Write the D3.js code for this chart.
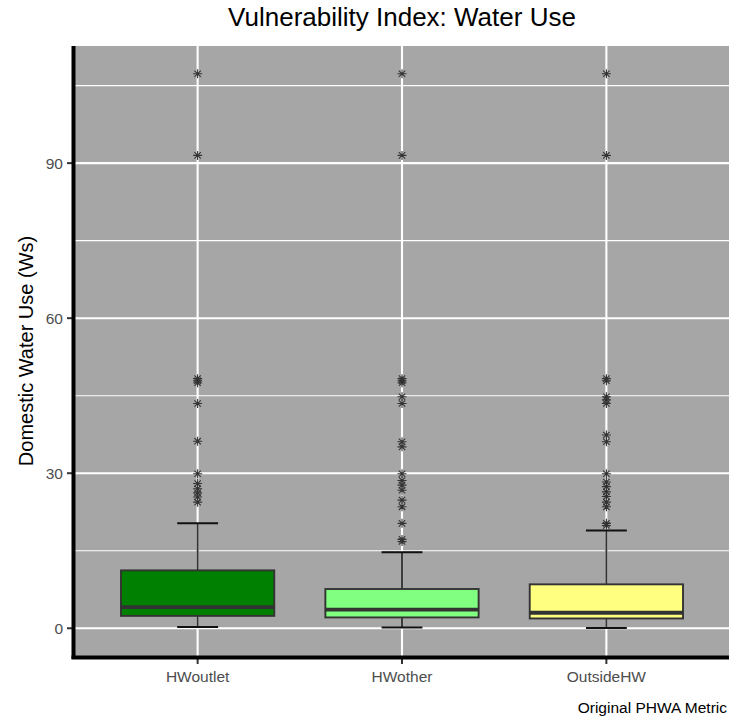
<!DOCTYPE html>
<html>
<head>
<meta charset="utf-8">
<script src="https://cdn.jsdelivr.net/npm/d3@7"></script>
<style>
  body { margin: 0; background: #fff; }
  svg { font-family: "Liberation Sans", Arial, sans-serif; }
</style>
</head>
<body>
<script>
const categories = ['HWoutlet', 'HWother', 'OutsideHW'];
const fills = ['#008000', '#80FF80', '#FFFF80'];
const whiskerLow = [0.26, 0.13, 0.06];
const q1 = [2.4, 2.1, 1.9];
const median = [4.1, 3.6, 3.0];
const q3 = [11.2, 7.6, 8.5];
const whiskerHigh = [20.3, 14.7, 18.9];
const outliersHWoutlet = [107.3, 91.5, 48.3, 47.9, 47.5, 43.5, 36.2, 29.9, 28.0, 27.0, 26.2, 25.4, 24.4];
const outliersHWother = [107.3, 91.5, 48.3, 47.9, 47.5, 44.8, 43.5, 36.1, 35.1, 29.9, 28.6, 27.7, 26.7, 24.8, 23.5, 20.3, 17.2, 16.8];
const outliersOutsideHW = [107.3, 91.5, 48.3, 47.9, 44.8, 44.2, 43.5, 37.4, 36.1, 29.9, 28.3, 27.4, 26.4, 25.5, 24.4, 23.5, 20.3, 19.9];
const yTicks = [0, 30, 60, 90];
const yMinor = [15, 45, 75, 105];

const width = 746, height = 721;
const margin = { top: 46, right: 17, bottom: 65, left: 75 };

const boxes = categories.map((c, i) => ({
	name: c,
	fill: fills[i],
	lo: whiskerLow[i],
	q1: q1[i],
	med: median[i],
	q3: q3[i],
	hi: whiskerHigh[i],
	out: [outliersHWoutlet, outliersHWother, outliersOutsideHW][i],
}));

const svg = d3.select('body').append('svg').attr('width', width).attr('height', height);

// discrete x: 0.6 units of expansion at each side, like ggplot
const x0 = margin.left, x1 = width - margin.right;
const x = d3
	.scaleLinear()
	.domain([0.4, categories.length + 0.6])
	.range([x0, x1]);
const unit = x(2) - x(1);
const cx = (d) => x(categories.indexOf(d) + 1);

const yMax = 107.3;
const y = d3
	.scaleLinear()
	.domain([-0.05 * yMax, yMax * 1.05])
	.range([height - margin.bottom, margin.top]);

// panel
svg.append('rect')
	.attr('x', x0)
	.attr('y', margin.top)
	.attr('width', x1 - x0)
	.attr('height', height - margin.bottom - margin.top)
	.attr('fill', '#A6A6A6');

const grid = svg.append('g');
grid.selectAll('.minor')
	.data(yMinor)
	.join('line')
	.attr('x1', x0).attr('x2', x1)
	.attr('y1', (d) => y(d)).attr('y2', (d) => y(d))
	.attr('stroke', '#fff').attr('stroke-width', 1.1);
grid.selectAll('.major')
	.data(yTicks)
	.join('line')
	.attr('x1', x0).attr('x2', x1)
	.attr('y1', (d) => y(d)).attr('y2', (d) => y(d))
	.attr('stroke', '#fff').attr('stroke-width', 2.1);
grid.selectAll('.vmajor')
	.data(categories)
	.join('line')
	.attr('x1', cx).attr('x2', cx)
	.attr('y1', margin.top).attr('y2', height - margin.bottom)
	.attr('stroke', '#fff').attr('stroke-width', 2.1);

const boxW = 0.75 * unit;
const capW = 0.2 * unit;
const g = svg.append('g');
const bx = g.selectAll('g').data(boxes).join('g');

// whiskers
bx.append('line')
	.attr('x1', (d) => cx(d.name)).attr('x2', (d) => cx(d.name))
	.attr('y1', (d) => y(d.q3)).attr('y2', (d) => y(d.hi))
	.attr('stroke', '#333').attr('stroke-width', 1.9);
bx.append('line')
	.attr('x1', (d) => cx(d.name)).attr('x2', (d) => cx(d.name))
	.attr('y1', (d) => y(d.q1)).attr('y2', (d) => y(d.lo))
	.attr('stroke', '#333').attr('stroke-width', 1.9);
for (const k of ['hi', 'lo']) {
	bx.append('line')
		.attr('x1', (d) => cx(d.name) - capW / 2).attr('x2', (d) => cx(d.name) + capW / 2)
		.attr('y1', (d) => y(d[k])).attr('y2', (d) => y(d[k]))
		.attr('stroke', '#111').attr('stroke-width', 2);
}
// box
bx.append('rect')
	.attr('x', (d) => cx(d.name) - boxW / 2)
	.attr('width', boxW)
	.attr('y', (d) => y(d.q3))
	.attr('height', (d) => y(d.q1) - y(d.q3))
	.attr('fill', (d) => d.fill)
	.attr('stroke', '#333').attr('stroke-width', 1.9);
bx.append('line')
	.attr('x1', (d) => cx(d.name) - boxW / 2).attr('x2', (d) => cx(d.name) + boxW / 2)
	.attr('y1', (d) => y(d.med)).attr('y2', (d) => y(d.med))
	.attr('stroke', '#333').attr('stroke-width', 3.8);

// outliers as asterisks
const star = (s) => {
	const r = s / 2, a = r * Math.SQRT1_2;
	return `M${-r},0H${r}M0,${-r}V${r}M${-a},${-a}L${a},${a}M${-a},${a}L${a},${-a}`;
};
bx.each(function (d) {
	d3.select(this)
		.selectAll('path.out')
		.data(d.out)
		.join('path')
		.attr('class', 'out')
		.attr('transform', (v) => `translate(${cx(d.name)},${y(v)})`)
		.attr('d', star(9))
		.attr('stroke', '#333')
		.attr('stroke-width', 1.1)
		.attr('fill', 'none');
});

// axes
const axisY = svg.append('g');
axisY.selectAll('line')
	.data(yTicks)
	.join('line')
	.attr('x1', x0 - 8).attr('x2', x0)
	.attr('y1', (d) => y(d)).attr('y2', (d) => y(d))
	.attr('stroke', '#333').attr('stroke-width', 2);
axisY.selectAll('text')
	.data(yTicks)
	.join('text')
	.attr('x', x0 - 12)
	.attr('y', (d) => y(d))
	.attr('dy', '0.35em')
	.attr('text-anchor', 'end')
	.attr('fill', '#4D4D4D')
	.style('font-size', '15.5px')
	.text((d) => d);

const axisX = svg.append('g');
axisX.selectAll('line')
	.data(categories)
	.join('line')
	.attr('x1', cx).attr('x2', cx)
	.attr('y1', height - margin.bottom).attr('y2', height - margin.bottom + 8)
	.attr('stroke', '#333').attr('stroke-width', 2);
axisX.selectAll('text')
	.data(categories)
	.join('text')
	.attr('x', cx)
	.attr('y', height - margin.bottom + 26)
	.attr('text-anchor', 'middle')
	.attr('fill', '#4D4D4D')
	.style('font-size', '15.5px')
	.text((d) => d);

// thick axis lines
svg.append('line')
	.attr('x1', x0 - 1.5).attr('x2', x0 - 1.5)
	.attr('y1', margin.top).attr('y2', height - margin.bottom + 3)
	.attr('stroke', '#000').attr('stroke-width', 4);
svg.append('line')
	.attr('x1', x0 - 3.5).attr('x2', x1)
	.attr('y1', height - margin.bottom + 1.5).attr('y2', height - margin.bottom + 1.5)
	.attr('stroke', '#000').attr('stroke-width', 4);

// titles
svg.append('text')
	.attr('x', (x0 + x1) / 2)
	.attr('y', 26)
	.attr('text-anchor', 'middle')
	.style('font-size', '26px')
	.attr('fill', '#000')
	.text('Vulnerability Index: Water Use');

svg.append('text')
	.attr('transform', `translate(33,${(margin.top + height - margin.bottom) / 2}) rotate(-90)`)
	.attr('text-anchor', 'middle')
	.style('font-size', '20px')
	.attr('fill', '#000')
	.text('Domestic Water Use (Ws)');

svg.append('text')
	.attr('x', x1 - 2)
	.attr('y', 713)
	.attr('text-anchor', 'end')
	.style('font-size', '15.5px')
	.attr('fill', '#000')
	.text('Original PHWA Metric');
</script>
</body>
</html>
